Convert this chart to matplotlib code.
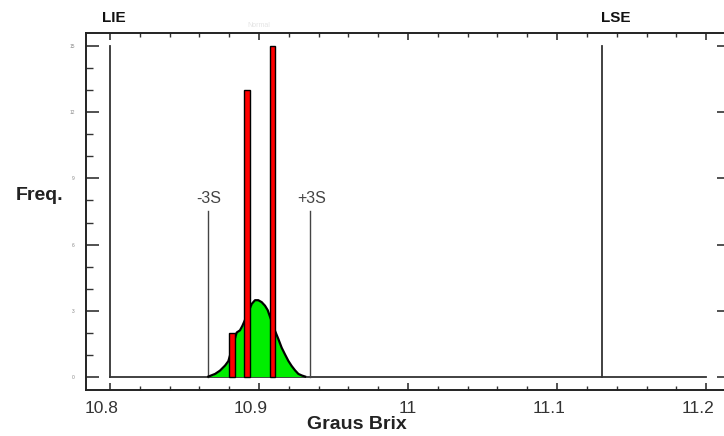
import numpy as np
import matplotlib
matplotlib.use('Agg')
import matplotlib.pyplot as plt
import matplotlib.transforms as mtransforms
from matplotlib.ticker import MultipleLocator

#data
bin_centers = [10.882, 10.892, 10.909]
freqs = [2, 13, 15]

curve_x = [10.866, 10.8705, 10.8738, 10.8772, 10.8794, 10.8850, 10.8872, 10.8888,
           10.8901, 10.8951, 10.8973, 10.8995, 10.9018, 10.9040, 10.9058, 10.9107,
           10.9130, 10.9152, 10.9174, 10.9197, 10.9219, 10.9242, 10.9264, 10.9287,
           10.9309]
curve_y = [0, 0.12, 0.27, 0.50, 0.70, 2.0, 2.1, 2.3,
           2.5, 3.3, 3.47, 3.47, 3.38, 3.22, 3.02, 2.08,
           1.70, 1.31, 1.01, 0.71, 0.48, 0.28, 0.12, 0.05,
           0]

lie = 10.8
lse = 11.13
minus_3s = 10.866
plus_3s = 10.934
limit_height = 15
sigma_height = 7.5

x_ticks = [10.8, 10.9, 11.0, 11.1, 11.2]
x_labels = ['10.8', '10.9', '11', '11.1', '11.2']
y_ticks = [0, 3, 6, 9, 12, 15]

plt.rcParams['font.family'] = ['Liberation Sans', 'DejaVu Sans']

fig = plt.figure(figsize=(7.24, 4.36), dpi=100)
ax = fig.add_axes([86/724, 46/436, 644/724, 357/436])

#normal curve
ax.fill_between(curve_x, curve_y, 0, color='#00ee00', lw=0, zorder=2)
ax.plot(curve_x, curve_y, color='black', lw=1.6, zorder=3)

#histogram bars
ax.bar(bin_centers, freqs, width=0.0038, color='#ff0000', edgecolor='black',
       linewidth=1.0, zorder=4)

#baseline and limit lines
ax.plot([lie, 11.2], [0, 0], color='#333333', lw=1.3, zorder=1)
ax.plot([lie, lie], [0, limit_height], color='#333333', lw=1.3, zorder=1)
ax.plot([lse, lse], [0, limit_height], color='#333333', lw=1.3, zorder=1)
ax.plot([minus_3s, minus_3s], [0, sigma_height], color='#444444', lw=1.0, zorder=1)
ax.plot([plus_3s, plus_3s], [0, sigma_height], color='#444444', lw=1.0, zorder=1)

ax.text(lie + 0.0027, 16.3, 'LIE', ha='center', va='center', fontsize=11,
        fontweight='bold', color='#111111')
ax.text(lse + 0.0095, 16.3, 'LSE', ha='center', va='center', fontsize=11,
        fontweight='bold', color='#111111')
ax.text(minus_3s, 8.1, '-3S', ha='center', va='center', fontsize=11.5, color='#444444')
ax.text(plus_3s + 0.001, 8.1, '+3S', ha='center', va='center', fontsize=11.5, color='#444444')
ax.text(10.9, 15.95, 'Normal', ha='center', va='center', fontsize=5, color='#e4e4e4')

ax.set_xlim(10.7839, 11.216)
ax.set_ylim(-0.61, 15.61)

#ticks
ax.set_xticks(x_ticks)
ax.set_xticklabels(x_labels)
ax.xaxis.set_minor_locator(MultipleLocator(0.02))
ax.set_yticks(y_ticks)
ax.yaxis.set_minor_locator(MultipleLocator(1))
ax.tick_params(axis='x', which='major', direction='in', length=5, width=1.2,
               top=True, bottom=True, pad=8, labelsize=12.5, colors='#333333')
ax.tick_params(axis='x', which='minor', direction='in', length=3, width=1.0,
               top=True, bottom=True, colors='#333333')
ax.tick_params(axis='y', which='major', direction='in', length=9.5, width=1.2,
               left=True, right=True, pad=8, labelsize=3.5, colors='#333333')
ax.tick_params(axis='y', which='minor', direction='in', length=5, width=1.0,
               left=True, right=False, colors='#333333')
ax.tick_params(axis='y', labelcolor='#888888')

# x labels are right aligned a bit past the tick
offset = mtransforms.ScaledTranslation(8.5/100, 0, fig.dpi_scale_trans)
for lab in ax.get_xticklabels():
    lab.set_horizontalalignment('right')
    lab.set_transform(lab.get_transform() + offset)

for sp in ax.spines.values():
    sp.set_linewidth(1.4)
    sp.set_color('#222222')

fig.text(357/724, 1 - 424/436, 'Graus Brix', ha='center', va='center', fontsize=14,
         fontweight='bold', color='#222222')
fig.text(40/724, 1 - 196/436, 'Freq.', ha='center', va='center', fontsize=14,
         fontweight='bold', color='#222222')

fig.savefig('out.png', dpi=100)
